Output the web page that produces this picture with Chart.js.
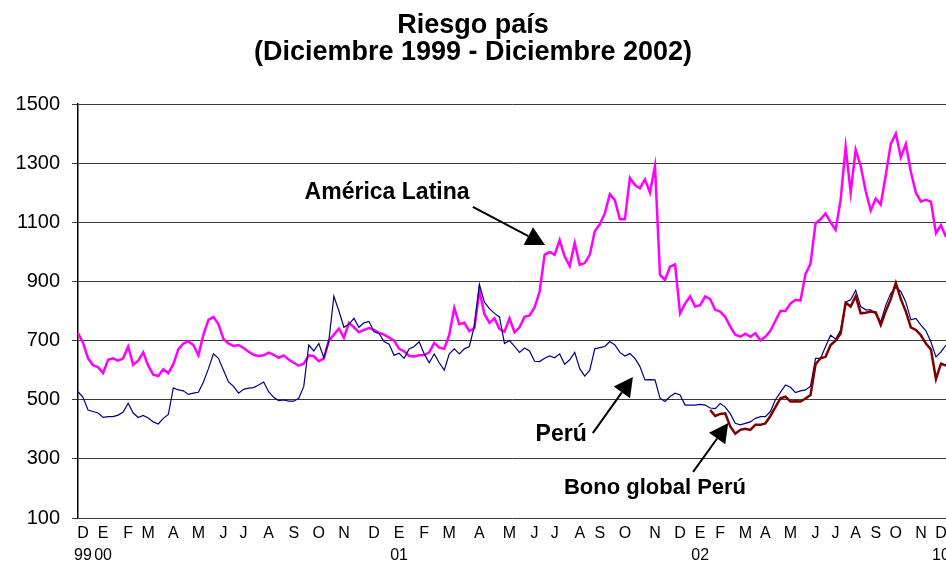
<!DOCTYPE html>
<html>
<head>
<meta charset="utf-8">
<script src="https://cdn.jsdelivr.net/npm/chart.js@4.4.0/dist/chart.umd.min.js"></script>
<style>
  html, body { margin: 0; padding: 0; background: #fff; overflow: hidden; }
  #wrap { width: 946px; height: 563px; }
</style>
</head>
<body>
<div id="wrap"><canvas id="riesgo" width="946" height="563"></canvas></div>
<script>
// ============================================
// DATA (one sample every ~4 trading days, Dic 1999 - Dic 2002)
// ============================================

const amLat = [
    725, 693, 640, 617, 610, 590, 635, 640, 632, 640,
    680, 618, 632, 660, 615, 585, 580, 603, 590, 620,
    670, 690, 697, 685, 650, 720, 770, 780, 755, 705,
    690, 682, 685, 675, 662, 652, 648, 650, 659, 652,
    642, 650, 636, 625, 615, 622, 650, 647, 630, 640,
    700, 720, 740, 710, 760, 745, 728, 736, 742, 736,
    726, 720, 710, 700, 672, 664, 648, 646, 650, 651,
    660, 692, 676, 672, 720, 810, 755, 760, 732, 742,
    870, 790, 760, 775, 740, 730, 775, 728, 745, 780,
    785, 812, 865, 990, 1000, 990, 1040, 984, 952, 1030,
    956, 962, 990, 1070, 1093, 1130, 1195, 1175, 1110, 1110,
    1250, 1226, 1215, 1245, 1200, 1290, 922, 905, 950, 958,
    792, 825, 849, 815, 820, 849, 840, 804, 798, 780,
    747, 720, 713, 723, 713, 725, 700, 713, 733, 767,
    800, 800, 825, 838, 835, 925, 960, 1097, 1110, 1130,
    1100, 1074, 1176, 1355, 1200, 1345, 1290, 1205, 1140, 1180,
    1160, 1260, 1365, 1400, 1320, 1365, 1270, 1200, 1170, 1176,
    1170, 1063, 1090, 1050
];

const peru = [
    527, 508, 465, 460, 455, 440, 443, 443, 448, 458,
    488, 455, 440, 447, 438, 425, 418, 437, 450, 540,
    533, 530, 518, 522, 525, 560, 605, 655, 640, 600,
    560, 545, 522, 535, 539, 541, 550, 560, 527, 508,
    497, 499, 495, 495, 505, 545, 685, 665, 690, 642,
    700, 850, 800, 745, 755, 775, 745, 760, 765, 730,
    724, 697, 688, 650, 657, 640, 672, 680, 696, 655,
    625, 655, 625, 600, 655, 672, 655, 672, 680, 750,
    890, 830, 808, 792, 780, 690, 700, 680, 660, 675,
    665, 630, 629, 640, 648, 642, 655, 620, 635, 660,
    605, 580, 600, 672, 676, 680, 697, 685, 660, 648,
    656, 640, 612, 567, 568, 567, 505, 494, 511, 522,
    516, 482, 482, 482, 484, 482, 472, 470, 487, 475,
    453, 420, 415, 420, 425, 437, 443, 443, 460, 500,
    525, 550, 542, 524, 530, 533, 546, 640, 640, 680,
    718, 705, 736, 830, 838, 870, 815, 804, 804, 790,
    764, 820, 860, 880, 866, 830, 770, 775, 752, 733,
    695, 645, 662, 685
];

// Bono global Perú only starts trading in febrero 2002
const bonoStart = 126;
const bonoValues = [
    465, 445, 452, 454,
    410, 385, 398, 402, 398, 415, 415, 420, 445, 475,
    505, 510, 494, 495, 494, 504, 516, 620, 640, 645,
    685, 700, 724, 828, 815, 850, 792, 794, 798, 795,
    753, 800, 840, 895, 840, 798, 745, 736, 718, 690,
    670, 570, 622, 615
];

// month initials and the sample where each one is printed
const monthLetters = ['D','E','F','M','A','M','J','J','A','S','O','N',
                      'D','E','F','M','A','M','J','J','A','S','O','N',
                      'D','E','F','M','A','M','J','J','A','S','O','N','D'];
const monthIndex = [1, 5, 10, 14, 19, 24, 29, 33, 38, 43, 48, 53,
                    59, 64, 69, 74, 80, 86, 91, 95, 100, 104, 109, 115,
                    120, 124, 128, 133, 137, 142, 147, 151, 155, 159, 163, 168, 172];
const yearIndex = [1, 5, 64, 124, 172];
const yearText = ['99', '00', '01', '02', '10'];

const yTicks = [100, 300, 500, 700, 900, 1100, 1300, 1500];

// callouts: text centre and arrows, in (sample, value) units
const notes = [
    { text: 'América Latina', at: [61.6, 1199], size: 23 },
    { text: 'Perú', at: [96.3, 381], size: 23 },
    { text: 'Bono global Perú', at: [115, 201], size: 22 }
];
const arrows = [
    { from: [78.7, 1152], to: [93.1, 1023] },
    { from: [102.6, 387], to: [110.6, 577] },
    { from: [122.6, 256], to: [129.6, 421] }
];

// ============================================
// BUILD LABELS / DATASETS
// ============================================

const FONT = '"Liberation Sans", Arial, Helvetica, sans-serif';

const labels = amLat.map(() => '');
monthIndex.forEach((idx, k) => { labels[idx] = monthLetters[k]; });
yearIndex.forEach((idx, k) => { labels[idx] = [labels[idx], yearText[k]]; });

const bono = amLat.map((_, i) => (i >= bonoStart ? bonoValues[i - bonoStart] : null));

// ============================================
// CALLOUT PLUGIN
// ============================================

const calloutPlugin = {
    id: 'callouts',
    afterDatasetsDraw(chart) {
        const { ctx, scales: { x, y } } = chart;
        ctx.save();
        ctx.fillStyle = '#000';
        ctx.strokeStyle = '#000';
        ctx.textAlign = 'center';
        ctx.textBaseline = 'middle';

        notes.forEach(n => {
            ctx.font = 'bold ' + n.size + 'px ' + FONT;
            ctx.fillText(n.text, x.getPixelForValue(n.at[0]), y.getPixelForValue(n.at[1]));
        });

        const headLen = 19, headHalf = 10;
        arrows.forEach(a => {
            const x0 = x.getPixelForValue(a.from[0]), y0 = y.getPixelForValue(a.from[1]);
            const x1 = x.getPixelForValue(a.to[0]), y1 = y.getPixelForValue(a.to[1]);
            const len = Math.hypot(x1 - x0, y1 - y0);
            const ux = (x1 - x0) / len, uy = (y1 - y0) / len;
            const bx = x1 - ux * headLen, by = y1 - uy * headLen;

            ctx.lineWidth = 2;
            ctx.beginPath();
            ctx.moveTo(x0, y0);
            ctx.lineTo(bx, by);
            ctx.stroke();

            ctx.beginPath();
            ctx.moveTo(x1, y1);
            ctx.lineTo(bx - uy * headHalf, by + ux * headHalf);
            ctx.lineTo(bx + uy * headHalf, by - ux * headHalf);
            ctx.closePath();
            ctx.fill();
        });
        ctx.restore();
    }
};

// ============================================
// CHART
// ============================================

new Chart(document.getElementById('riesgo').getContext('2d'), {
    type: 'line',
    data: {
        labels: labels,
        datasets: [
            { label: 'Bono global Perú', data: bono, borderColor: '#800000', borderWidth: 2.5 },
            { label: 'Perú', data: peru, borderColor: '#000080', borderWidth: 1.2 },
            { label: 'América Latina', data: amLat, borderColor: '#FF00FF', borderWidth: 2.5 }
        ]
    },
    options: {
        responsive: false,
        animation: false,
        devicePixelRatio: 1,
        layout: { padding: 0 },
        elements: {
            point: { radius: 0 },
            line: { tension: 0, fill: false }
        },
        plugins: {
            legend: { display: false },
            tooltip: { enabled: false },
            title: {
                display: true,
                text: ['Riesgo país', '(Diciembre 1999 - Diciembre 2002)'],
                color: '#000',
                font: { family: FONT, size: 27, weight: 'bold', lineHeight: 1.0 },
                padding: { top: 12, bottom: 38 }
            }
        },
        scales: {
            x: {
                type: 'category',
                offset: false,
                grid: { display: false, drawTicks: false },
                border: { display: false },
                ticks: {
                    autoSkip: false,
                    maxRotation: 0,
                    minRotation: 0,
                    padding: 4,
                    color: '#000',
                    font: { family: FONT, size: 16, lineHeight: 1.4 }
                },
                afterFit: (scale) => {
                    scale.paddingLeft = 0;
                    scale.paddingRight = 0;
                    scale.height = 45;
                }
            },
            y: {
                min: 100,
                max: 1500,
                afterBuildTicks: (scale) => { scale.ticks = yTicks.map(v => ({ value: v })); },
                grid: { color: '#3a3a3a', lineWidth: 1, tickLength: 6, drawTicks: true },
                border: { display: true, color: '#000', width: 1.5 },
                ticks: {
                    padding: 12,
                    color: '#000',
                    font: { family: FONT, size: 20 },
                    callback: (v) => String(v)
                },
                afterFit: (scale) => { scale.width = 78; }
            }
        }
    },
    plugins: [calloutPlugin]
});
</script>
</body>
</html>
